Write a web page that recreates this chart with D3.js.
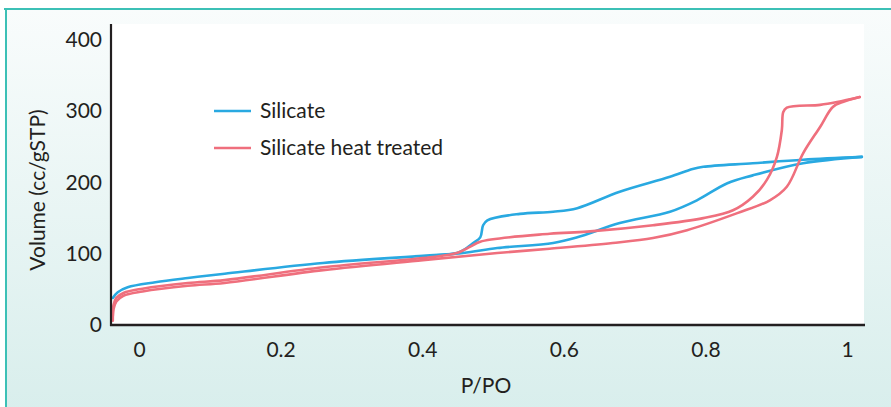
<!DOCTYPE html>
<html>
<head>
<meta charset="utf-8">
<script src="https://cdn.jsdelivr.net/npm/d3@7"></script>
<style>
  html, body { margin: 0; padding: 0; background: #fff; }
  svg { display: block; font-family: Lato, "Open Sans", sans-serif; }
</style>
</head>
<body>
<div id="chart"></div>
<script>
// tick labels
const xTicks = [0, 0.2, 0.4, 0.6, 0.8, 1];
const yTicks = [0, 100, 200, 300, 400];

const seriesNames = ["Silicate", "Silicate heat treated"];

// [P/PO, volume]
const silicateAds = [
  [-0.037, 38], [-0.030, 46], [-0.016, 53], [0.023, 60], [0.069, 66], [0.121, 72],
  [0.260, 87], [0.401, 97], [0.458, 101], [0.506, 108], [0.585, 115], [0.619, 123],
  [0.679, 143], [0.750, 159], [0.788, 175], [0.831, 199], [0.867, 210], [0.938, 227],
  [1.021, 236]
];
const silicateDes = [
  [1.021, 236], [0.938, 232], [0.867, 227], [0.797, 222], [0.782, 219], [0.750, 208],
  [0.679, 187], [0.619, 164], [0.585, 159], [0.538, 156], [0.492, 147], [0.486, 140],
  [0.482, 123], [0.472, 115], [0.458, 105], [0.449, 101], [0.420, 98]
];
const heatAds = [
  [-0.037, 6], [-0.036, 22], [-0.032, 33], [-0.022, 41], [0.005, 47], [0.069, 55],
  [0.121, 59], [0.260, 77], [0.401, 91], [0.506, 101], [0.580, 107], [0.669, 115],
  [0.726, 122], [0.774, 133], [0.845, 157], [0.891, 175], [0.915, 194], [0.938, 241],
  [0.962, 278], [0.980, 306], [0.994, 313], [1.018, 320]
];
const heatDes = [
  [1.018, 320], [0.986, 313], [0.962, 309], [0.915, 305], [0.910, 299], [0.908, 274],
  [0.901, 236], [0.887, 204], [0.867, 180], [0.839, 161], [0.797, 150], [0.726, 140],
  [0.633, 131], [0.580, 128], [0.482, 117], [0.468, 110], [0.449, 101], [0.411, 95],
  [0.260, 81], [0.121, 63], [0.069, 59], [0.005, 51], [-0.022, 45], [-0.032, 38],
  [-0.036, 28], [-0.037, 13]
];

const W = 891, H = 407;
const colors = { "Silicate": "#29a9e1", "Silicate heat treated": "#ef6f7d" };
const ink = "#231f20";
const fontSize = 21;

const svg = d3.select("#chart").append("svg")
  .attr("width", W).attr("height", H);

// panel background with teal frame
const defs = svg.append("defs");
const grad = defs.append("linearGradient")
  .attr("id", "bg").attr("x1", 0).attr("y1", 0).attr("x2", 0).attr("y2", 1);
grad.append("stop").attr("offset", "0%").attr("stop-color", "#f9fcfc");
grad.append("stop").attr("offset", "100%").attr("stop-color", "#d8eeec");

svg.append("rect").attr("x", 6).attr("y", 9).attr("width", W).attr("height", H)
  .attr("fill", "url(#bg)");
svg.append("line").attr("x1", 4).attr("x2", W).attr("y1", 9).attr("y2", 9)
  .attr("stroke", "#3cc0b6").attr("stroke-width", 2);
svg.append("line").attr("x1", 6).attr("x2", 6).attr("y1", 9).attr("y2", H)
  .attr("stroke", "#3cc0b6").attr("stroke-width", 2);

// plot area
const plot = { left: 111, right: 864, top: 24, bottom: 325 };
svg.append("rect")
  .attr("x", plot.left).attr("y", plot.top)
  .attr("width", plot.right - plot.left).attr("height", plot.bottom - plot.top)
  .attr("fill", "#fff");

const x = d3.scaleLinear().domain([0, 1]).range([139, 847]);
const y = d3.scaleLinear().domain([0, 400]).range([325, 40]);

// axes (labels only, lines drawn below)
const xAxis = svg.append("g")
  .attr("transform", "translate(0," + plot.bottom + ")")
  .call(d3.axisBottom(x).tickValues(xTicks).tickSize(0).tickPadding(17)
    .tickFormat(d => d === 0 || d === 1 ? String(d) : d3.format(".1f")(d)));
xAxis.select(".domain").remove();
xAxis.selectAll("text").attr("font-size", fontSize).attr("fill", ink)
  .attr("font-family", "Lato, sans-serif");

const yAxis = svg.append("g")
  .attr("transform", "translate(" + (plot.left - 9) + ",0)")
  .call(d3.axisLeft(y).tickValues(yTicks).tickSize(0).tickPadding(0));
yAxis.select(".domain").remove();
yAxis.selectAll("text").attr("font-size", fontSize).attr("fill", ink)
  .attr("font-family", "Lato, sans-serif");

// curves
const line = d3.line()
  .x(d => x(d[0]))
  .y(d => y(d[1]))
  .curve(d3.curveCatmullRom.alpha(0.5));

const curves = [
  { name: "Silicate", data: silicateAds },
  { name: "Silicate", data: silicateDes },
  { name: "Silicate heat treated", data: heatAds },
  { name: "Silicate heat treated", data: heatDes }
];

svg.append("g").selectAll("path")
  .data(curves)
  .enter().append("path")
    .attr("d", d => line(d.data))
    .attr("fill", "none")
    .attr("stroke", d => colors[d.name])
    .attr("stroke-width", 2.6)
    .attr("stroke-linejoin", "round")
    .attr("stroke-linecap", "round");

// axis lines
svg.append("line")
  .attr("x1", plot.left).attr("x2", plot.left)
  .attr("y1", plot.top).attr("y2", plot.bottom + 1)
  .attr("stroke", ink).attr("stroke-width", 2.2);
svg.append("line")
  .attr("x1", plot.left - 1).attr("x2", plot.right + 1)
  .attr("y1", plot.bottom).attr("y2", plot.bottom)
  .attr("stroke", ink).attr("stroke-width", 2.4);

// axis titles
svg.append("text")
  .attr("x", 486).attr("y", 393)
  .attr("text-anchor", "middle")
  .attr("font-size", fontSize).attr("fill", ink)
  .text("P/PO");

svg.append("text")
  .attr("transform", "translate(45,190) rotate(-90)")
  .attr("text-anchor", "middle")
  .attr("font-size", fontSize).attr("fill", ink)
  .text("Volume (cc/gSTP)");

// legend
const legend = svg.append("g").attr("transform", "translate(214,111)");
const items = legend.selectAll("g")
  .data(seriesNames)
  .enter().append("g")
    .attr("transform", (d, i) => "translate(0," + i * 37 + ")");
items.append("line")
  .attr("x1", 0).attr("x2", 37).attr("y1", 0).attr("y2", 0)
  .attr("stroke", d => colors[d]).attr("stroke-width", 2.6);
items.append("text")
  .attr("x", 46).attr("y", 7)
  .attr("font-size", fontSize).attr("fill", ink)
  .text(d => d);
</script>
</body>
</html>
